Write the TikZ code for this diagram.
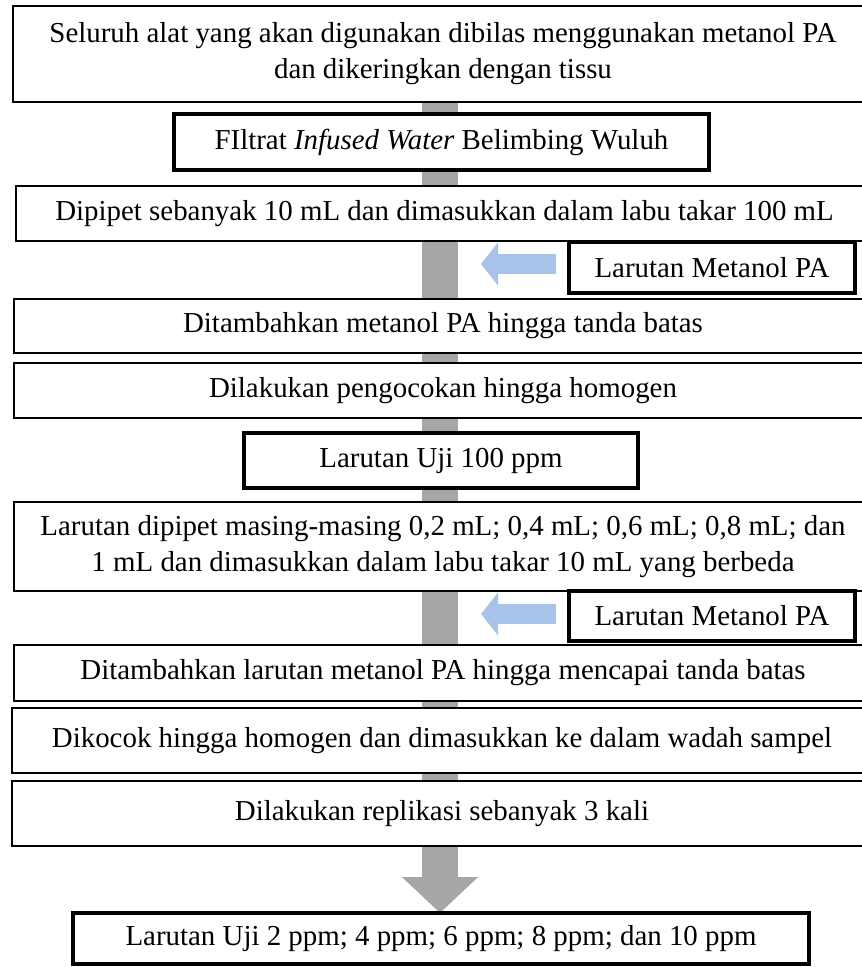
\documentclass[tikz,border=0pt]{standalone}
\usepackage{fontspec}
\setmainfont{Liberation Serif}
\usetikzlibrary{arrows.meta,backgrounds}
\definecolor{bargray}{RGB}{166,166,166}
\definecolor{arrblue}{RGB}{168,195,233}
\begin{document}
\begin{tikzpicture}[x=1pt,y=-1pt,
  every node/.style={font=\fontsize{28.9}{36}\selectfont, inner sep=0pt, outer sep=0pt, align=center},
  thinbox/.style={draw=black, line width=1.7pt, fill=white},
  thickbox/.style={draw=black, line width=4pt, fill=white},
  flowbar/.style={bargray, line width=36pt, -{Triangle[width=74pt,length=36pt]}},
  sidearrow/.style={arrblue, line width=20pt, -{Triangle[width=42pt,length=17pt]}, shorten <=13pt}
]
\useasboundingbox (0,0) rectangle (862,967);
\clip (0,0) rectangle (862,967);
\node[thinbox, minimum width=860pt, minimum height=96pt] (b1) at (443,54)
  {Seluruh alat yang akan digunakan dibilas menggunakan metanol PA\\ dan dikeringkan dengan tissu};
\node[thickbox, minimum width=535pt, minimum height=56pt] (b2) at (441.5,142)
  {FIltrat \textit{Infused Water} Belimbing Wuluh};
\node[thinbox, minimum width=857pt, minimum height=55pt] (b3) at (444.5,213.5)
  {Dipipet sebanyak 10 mL dan dimasukkan dalam labu takar 100 mL};
\node[thickbox, minimum width=286pt, minimum height=51pt] (s1) at (712,267.5)
  {Larutan Metanol PA};
\node[thinbox, minimum width=858pt, minimum height=54pt] (b4) at (443,326)
  {Ditambahkan metanol PA hingga tanda batas};
\node[thinbox, minimum width=858pt, minimum height=55pt] (b5) at (443,390.5)
  {Dilakukan pengocokan hingga homogen};
\node[thickbox, minimum width=394pt, minimum height=55pt] (b6) at (441,460.5)
  {Larutan Uji 100 ppm};
\node[thinbox, minimum width=858pt, minimum height=89pt] (b7) at (443,546.5)
  {Larutan dipipet masing-masing 0,2 mL; 0,4 mL; 0,6 mL; 0,8 mL; dan\\ 1 mL dan dimasukkan dalam labu takar 10 mL yang berbeda};
\node[thickbox, minimum width=286pt, minimum height=50pt] (s2) at (712,616)
  {Larutan Metanol PA};
\node[thinbox, minimum width=858pt, minimum height=56pt] (b8) at (443,673)
  {Ditambahkan larutan metanol PA hingga mencapai tanda batas};
\node[thinbox, minimum width=860pt, minimum height=65pt] (b9) at (442,740.5)
  {Dikocok hingga homogen dan dimasukkan ke dalam wadah sampel};
\node[thinbox, minimum width=860pt, minimum height=65pt] (b10) at (442,813.5)
  {Dilakukan replikasi sebanyak 3 kali};
\node[thickbox, minimum width=736pt, minimum height=51pt] (b11) at (441,938.5)
  {Larutan Uji 2 ppm; 4 ppm; 6 ppm; 8 ppm; dan 10 ppm};
\coordinate (barx) at (440,0);
\coordinate (t1) at (481,264);
\coordinate (t2) at (481,614);
\begin{scope}[on background layer]
  \draw[flowbar] (b1.south -| barx) -- (b11.north -| barx);
\end{scope}
\draw[sidearrow] (s1.west |- t1) -- (t1);
\draw[sidearrow] (s2.west |- t2) -- (t2);
\end{tikzpicture}
\end{document}
